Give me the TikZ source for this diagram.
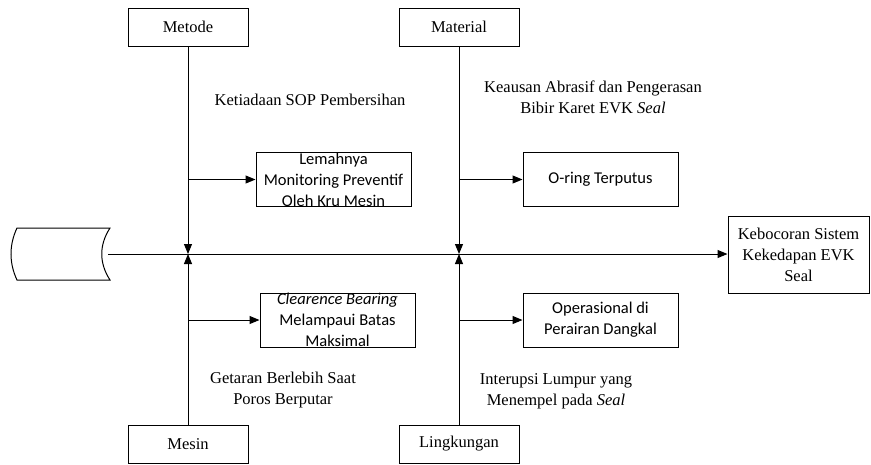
\documentclass[tikz,border=0pt]{standalone}
\usepackage{fontspec}
\setmainfont{Liberation Serif}
\newfontfamily\calfont{Carlito}
\usetikzlibrary{arrows.meta}
\tikzset{catbox/.style={draw, line width=1pt, minimum width=120pt, minimum height=38pt, inner sep=0pt, font=\fontsize{16.5}{20.5}\selectfont}}
\tikzset{subbox/.style={draw, line width=1pt, minimum width=155pt, minimum height=54pt, inner sep=0pt}}
\tikzset{subtext/.style={align=center, inner sep=0pt, font=\calfont\fontsize{16.5}{21}\selectfont}}
\tikzset{causetext/.style={align=center, inner sep=0pt, font=\fontsize{16.5}{21}\selectfont}}
\tikzset{arr/.style={line width=1pt, -{Triangle[length=10pt,width=8pt]}}}

\begin{document}
\begin{tikzpicture}[x=1pt,y=-1pt]
  \useasboundingbox (0,0) rectangle (871,464);
  % category boxes
  \foreach \x/\y/\name/\lab in {
    188/27/Metode/metode,
    459/27/Material/material,
    188/444/Mesin/mesin,
    459/444/Lingkungan/lingkungan%
  } {
    \node[catbox] (\lab) at (\x, \y) {\name};
  }
  % effect and tail
  \node[draw, line width=1pt, minimum width=141pt, minimum height=77pt, inner sep=0pt,
    align=center, font=\fontsize{16.5}{21}\selectfont] (effect) at (798.5,254.5)
    {Kebocoran Sistem\\Kekedapan EVK\\Seal};
  \draw[line width=1pt] (17,228) -- (110,228) .. controls (99,245) and (99,263) .. (110,280)
    -- (17,280) .. controls (9,263) and (9,245) .. cycle;
  \coordinate (tail) at (108,254);
  \coordinate (j1) at (metode.south |- tail);
  \coordinate (j2) at (material.south |- tail);
  \draw[arr] (tail) -- (effect.west |- tail);
  \draw[arr] (metode.south) -- (j1);
  \draw[arr] (mesin.north) -- (j1);
  \draw[arr] (material.south) -- (j2);
  \draw[arr] (lingkungan.north) -- (j2);
  % sub causes
  \foreach \x/\y/\lab/\txt in {
    333.5/179.5/lemah/{Lemahnya\\Monitoring Preventif\\Oleh Kru Mesin},
    337.5/320/clear/{\textit{Clearence Bearing}\\Melampaui Batas\\Maksimal},
    600.5/179.5/oring/{O-ring Terputus},
    600.5/320/dangkal/{Operasional di\\Perairan Dangkal}%
  } {
    \node[subbox] (\lab) at (\x, \y) {};
    \node[subtext] (\lab-t) at (\lab) {\txt};
  }
  \draw[arr] (lemah.west -| metode.south) -- (lemah.west);
  \draw[arr] (clear.west -| mesin.north) -- (clear.west);
  \draw[arr] (oring.west -| material.south) -- (oring.west);
  \draw[arr] (dangkal.west -| lingkungan.north) -- (dangkal.west);
  % cause texts
  \node[causetext] (sop) at (310,100) {Ketiadaan SOP Pembersihan};
  \node[causetext] (aus) at (593,97.5) {Keausan Abrasif dan Pengerasan\\Bibir Karet EVK \textit{Seal}};
  \node[causetext] (getar) at (283,390.5) {Getaran Berlebih Saat\\Poros Berputar};
  \node[causetext] (lumpur) at (556,391) {Interupsi Lumpur yang\\Menempel pada \textit{Seal}};
\end{tikzpicture}
\end{document}
